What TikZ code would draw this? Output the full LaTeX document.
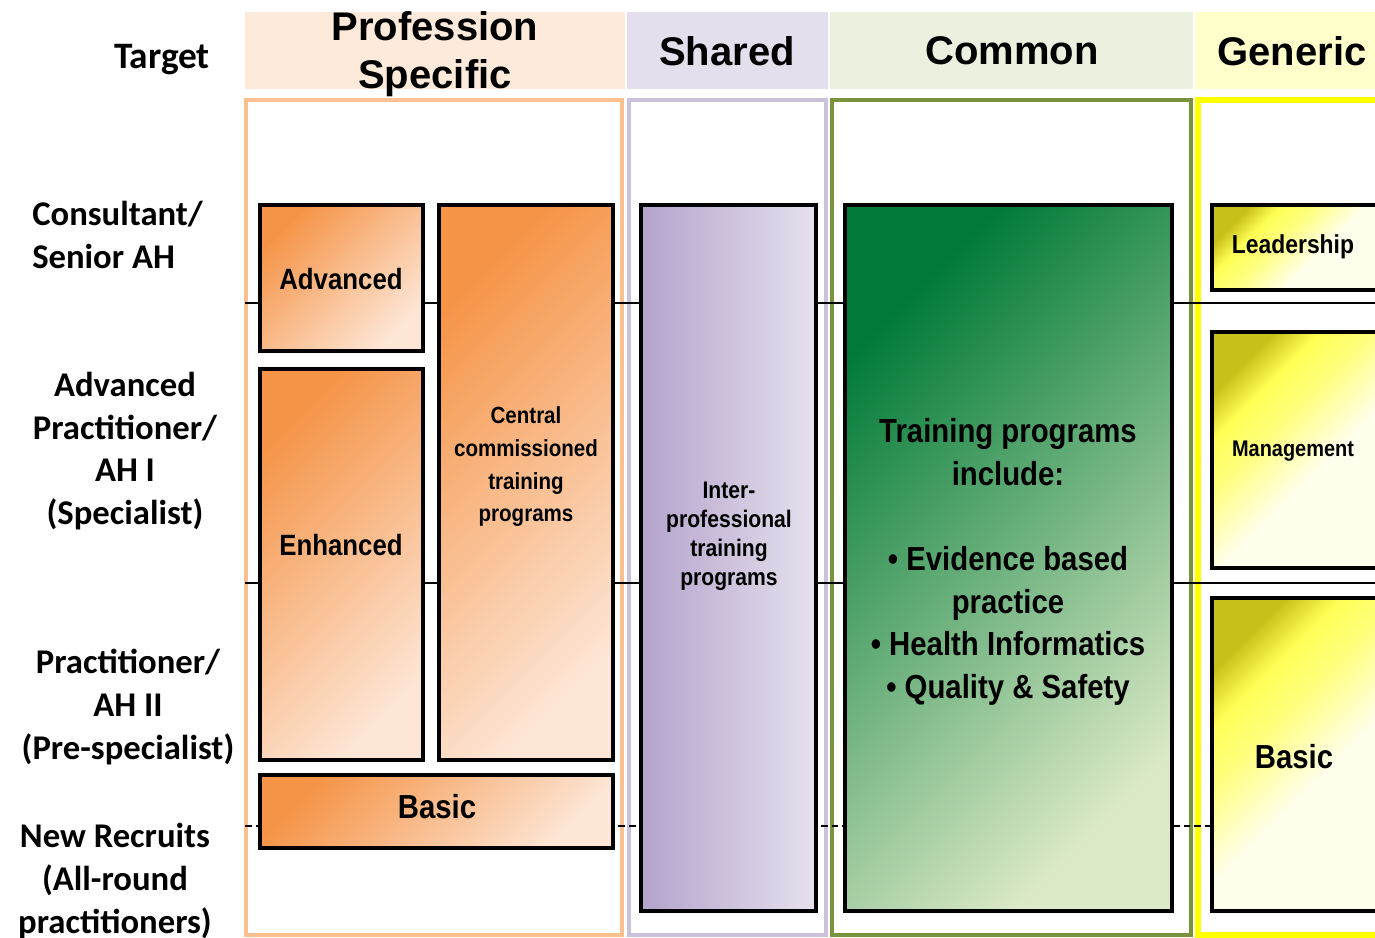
\documentclass[tikz,border=0pt]{standalone}
\usepackage{fontspec}
\setmainfont{Liberation Sans}
\newfontfamily\rolefont{Carlito}
\newfontfamily\narrowfont{Liberation Sans}[FakeStretch=0.88]
\usetikzlibrary{positioning,fit}
\definecolor{orgD}{HTML}{F59447}
\definecolor{orgL}{HTML}{FDE6D6}
\definecolor{orgHd}{HTML}{FDEADA}
\definecolor{orgFr}{HTML}{FAC090}
\definecolor{lavD}{HTML}{B4A3CC}
\definecolor{lavL}{HTML}{E6E1EE}
\definecolor{lavHd}{HTML}{E4DFEC}
\definecolor{lavFr}{HTML}{CCC1DA}
\definecolor{grnD}{HTML}{007A36}
\definecolor{grnL}{HTML}{DDEAC8}
\definecolor{grnHd}{HTML}{EBF1DE}
\definecolor{grnFr}{HTML}{77933C}
\definecolor{yelD}{HTML}{C8C01A}
\definecolor{yelB}{HTML}{FFFF55}
\definecolor{yelM}{HTML}{FFFF80}
\definecolor{yelL}{HTML}{FFFFEE}
\definecolor{yelHd}{HTML}{FFFFCC}
\definecolor{yelFr}{HTML}{FFFF00}
\pgfdeclareverticalshading{yelshade}{100bp}{color(0bp)=(yelL); color(25bp)=(yelL); color(44bp)=(yelL); color(58bp)=(yelM); color(67bp)=(yelB); color(75bp)=(yelD); color(100bp)=(yelD)}
\tikzset{
  colhead/.style={inner sep=0pt, font=\bfseries\fontsize{30}{36}\selectfont, align=center},
  headfill/.style={inner sep=0pt},
  colframe/.style={draw, line width=3.5pt, inner sep=0pt},
  box/.style={draw=black, line width=3pt, inner sep=0pt},
  orangebox/.style={box, top color=orgD, bottom color=orgL, shading angle=45},
  lavbox/.style={box, left color=lavD, right color=lavL},
  greenbox/.style={box, top color=grnD, bottom color=grnL, shading angle=45},
  yellowbox/.style={box, shading=yelshade, shading angle=45},
  boxtext/.style 2 args={font=\narrowfont\bfseries\fontsize{#1}{#2}\selectfont, align=center, inner sep=0pt},
  role/.style={font=\rolefont\bfseries\fontsize{26}{32}\selectfont, align=center, inner sep=0pt},
  level/.style={line width=2pt},
}
\begin{document}
\begin{tikzpicture}[x=0.75pt,y=-0.75pt]
\useasboundingbox (0,0) rectangle (1375,938);
\clip (0,0) rectangle (1375,938);

% column heads
\node[role, font=\rolefont\bfseries\fontsize{28}{34}\selectfont] (target) at (162,60) {Target};
\node[headfill, fill=orgHd, fit={(245,12) (625,89)}] (psHead) {};
\node[headfill, fill=lavHd, fit={(627,12) (828,89)}] (shHead) {};
\node[headfill, fill=grnHd, fit={(830,12) (1193,89)}] (cmHead) {};
\node[headfill, fill=yelHd, fit={(1195,12) (1390,89)}] (gnHead) {};
\node[colhead] (psHT) at (435,54) {Profession\\Specific};
\node[colhead] (shHT) at (727,51) {Shared};
\node[colhead] (cmHT) at (1012,51) {Common};
\node[colhead] (gnHT) at (1292,51) {Generic};

% column frames
\node[colframe, draw=orgFr, fit={(246,100) (622,935)}] (psCol) {};
\node[colframe, draw=lavFr, fit={(629,100) (826,935)}] (shCol) {};
\node[colframe, draw=grnFr, fit={(832,100) (1191,935)}] (cmCol) {};
\node[colframe, draw=yelFr, line width=5pt, fit={(1198,100) (1395,935)}] (gnCol) {};

% level lines
\coordinate (lvA1) at (245,303);
\coordinate (lvA2) at (1375,303);
\coordinate (lvB1) at (245,583);
\coordinate (lvB2) at (1375,583);
\coordinate (lvC1) at (245,826);
\coordinate (lvC2) at (1212,826);
\draw[level] (lvA1) -- (lvA2);
\draw[level] (lvB1) -- (lvB2);
\draw[level, dash pattern=on 5pt off 3pt] (lvC1) -- (lvC2);

% boxes
\node[orangebox, fit={(260,205) (423,351)}] (adv) {};
\node[orangebox, fit={(439,205) (613,760)}] (cen) {};
\node[orangebox, fit={(260,369) (423,760)}] (enh) {};
\node[orangebox, fit={(260,775) (613,848)}] (bas) {};
\node[lavbox, fit={(641,205) (816,911)}] (inter) {};
\node[greenbox, fit={(845,205) (1172,911)}] (train) {};
\node[yellowbox, fit={(1212,205) (1395,290)}] (ldr) {};
\node[yellowbox, fit={(1212,332) (1395,568)}] (mgt) {};
\node[yellowbox, fit={(1212,598) (1395,911)}] (bsy) {};

\node[boxtext={22}{27}] (advT) at (341,279) {Advanced};
\node[boxtext={17.5}{24.5}] (cenT) at (526,467) {Central\\commissioned\\training\\programs};
\node[boxtext={22}{27}] (enhT) at (341,545) {Enhanced};
\node[boxtext={25}{30}] (basT) at (437,807) {Basic};
\node[boxtext={18}{21.75}] (intT) at (729,536) {Inter-\\professional\\training\\programs};
\node[boxtext={25}{32}] (trnT) at (1008,562) {Training programs\\include:\\[32pt]• Evidence based\\practice\\• Health Informatics\\• Quality \& Safety};
\node[boxtext={19.5}{24}] (ldrT) at (1293,247) {Leadership};
\node[boxtext={17}{22}] (mgtT) at (1293,451) {Management};
\node[boxtext={25}{30}] (bsyT) at (1294,757) {Basic};

% target levels
\node[role, align=left, anchor=west] (cons) at (32,235) {Consultant/\\Senior AH};
\node[role] (advP) at (125,451) {Advanced\\Practitioner/\\AH I\\(Specialist)};
\node[role] (prac) at (128,707) {Practitioner/\\AH II\\(Pre-specialist)};
\node[role] (newR) at (115,881) {New Recruits\\(All-round\\practitioners)};
\end{tikzpicture}
\end{document}
